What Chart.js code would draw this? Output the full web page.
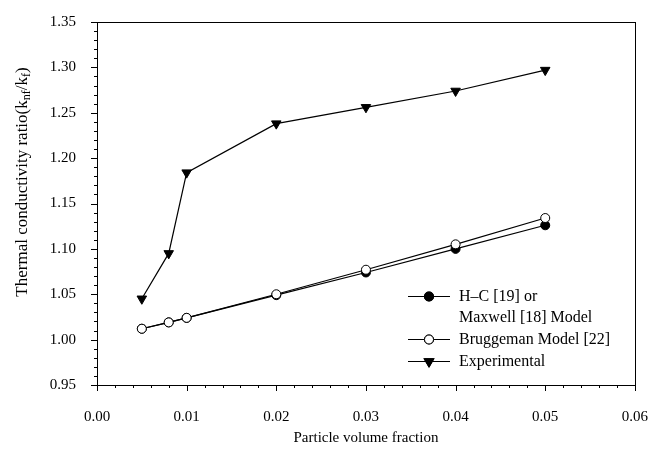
<!DOCTYPE html>
<html>
<head>
<meta charset="utf-8">
<script src="https://cdn.jsdelivr.net/npm/chart.js@4.4.0/dist/chart.umd.min.js"></script>
<style>
  html, body { margin: 0; padding: 0; background: #fff; }
  #wrap { width: 663px; height: 456px; position: relative; }
</style>
</head>
<body>
<div id="wrap"><canvas id="chart"></canvas></div>
<script>
// values
const fractions = [0.005, 0.008, 0.01, 0.02, 0.03, 0.04, 0.05];
const hcMaxwell = [1.012, 1.019, 1.024, 1.049, 1.074, 1.100, 1.126];
const bruggeman = [1.012, 1.019, 1.024, 1.050, 1.077, 1.105, 1.134];
const experimental = [1.045, 1.095, 1.184, 1.238, 1.256, 1.274, 1.297];

const xTicks = [0.00, 0.01, 0.02, 0.03, 0.04, 0.05, 0.06];
const yTicks = [0.95, 1.00, 1.05, 1.10, 1.15, 1.20, 1.25, 1.30, 1.35];
const xMinorPerMajor = 5;
const yMinorPerMajor = 5;

const FONT = '"Liberation Serif", "Times New Roman", serif';

const toPoints = ys => fractions.map((x, i) => ({ x: x, y: ys[i] }));

// ticks, frame, axis titles and legend
const decorations = {
  id: 'decorations',
  afterDraw(chart) {
    const ctx = chart.ctx;
    const { left, right, top, bottom } = chart.chartArea;
    const xs = chart.scales.x, ys = chart.scales.y;
    ctx.save();
    ctx.strokeStyle = '#000';
    ctx.lineWidth = 1;
    ctx.strokeRect(Math.round(left) + 0.5, Math.round(top) + 0.5, Math.round(right - left), Math.round(bottom - top));

    // x ticks, outward
    ctx.beginPath();
    for (let i = 0; i < xTicks.length - 1; i++) {
      const step = (xTicks[i + 1] - xTicks[i]) / xMinorPerMajor;
      for (let j = 0; j < xMinorPerMajor; j++) {
        const px = Math.round(xs.getPixelForValue(xTicks[i] + j * step)) + 0.5;
        const len = j === 0 ? 6 : 3;
        ctx.moveTo(px, bottom);
        ctx.lineTo(px, bottom + len);
      }
    }
    const pxLast = Math.round(xs.getPixelForValue(xTicks[xTicks.length - 1])) + 0.5;
    ctx.moveTo(pxLast, bottom);
    ctx.lineTo(pxLast, bottom + 6);

    // y ticks, outward
    for (let i = 0; i < yTicks.length - 1; i++) {
      const step = (yTicks[i + 1] - yTicks[i]) / yMinorPerMajor;
      for (let j = 0; j < yMinorPerMajor; j++) {
        const py = Math.round(ys.getPixelForValue(yTicks[i] + j * step)) + 0.5;
        const len = j === 0 ? 6 : 3;
        ctx.moveTo(left, py);
        ctx.lineTo(left - len, py);
      }
    }
    const pyLast = Math.round(ys.getPixelForValue(yTicks[yTicks.length - 1])) + 0.5;
    ctx.moveTo(left, pyLast);
    ctx.lineTo(left - 6, pyLast);
    ctx.stroke();

    // x title
    ctx.fillStyle = '#000';
    ctx.font = '15px ' + FONT;
    ctx.textAlign = 'center';
    ctx.textBaseline = 'middle';
    ctx.fillText('Particle volume fraction', (left + right) / 2, 438);

    // y title with subscripts
    const parts = [
      ['Thermal conductivity ratio(k', false],
      ['nf', true],
      ['/k', false],
      ['f', true],
      [')', false]
    ];
    const big = '17px ' + FONT, small = '12px ' + FONT;
    let total = 0;
    parts.forEach(p => { ctx.font = p[1] ? small : big; total += ctx.measureText(p[0]).width; });
    ctx.translate(22, 182);
    ctx.rotate(-Math.PI / 2);
    ctx.textAlign = 'left';
    ctx.textBaseline = 'alphabetic';
    let cx = -total / 2;
    parts.forEach(p => {
      ctx.font = p[1] ? small : big;
      ctx.fillText(p[0], cx, p[1] ? 8 : 5);
      cx += ctx.measureText(p[0]).width;
    });
    ctx.setTransform(1, 0, 0, 1, 0, 0);

    // legend
    const rows = [
      { ds: 0, lines: ['H\u2013C [19] or', 'Maxwell [18] Model'], y: 296 },
      { ds: 1, lines: ['Bruggeman Model [22]'], y: 339 },
      { ds: 2, lines: ['Experimental'], y: 361 }
    ];
    const x0 = 408, x1 = 450, textX = 459;
    rows.forEach(r => {
      const d = chart.data.datasets[r.ds];
      ctx.strokeStyle = '#000';
      ctx.lineWidth = 1.2;
      ctx.beginPath();
      ctx.moveTo(x0, r.y + 0.5);
      ctx.lineTo(x1, r.y + 0.5);
      ctx.stroke();
      Chart.helpers.drawPoint(ctx, {
        pointStyle: d.pointStyle,
        rotation: d.pointRotation || 0,
        radius: d.pointRadius,
        borderWidth: d.pointBorderWidth
      }, (x0 + x1) / 2, r.y + 0.5);
      ctx.fillStyle = d.pointBackgroundColor;
      ctx.strokeStyle = '#000';
      ctx.lineWidth = d.pointBorderWidth;
      ctx.fill();
      ctx.stroke();
      ctx.fillStyle = '#000';
      ctx.font = '16px ' + FONT;
      ctx.textAlign = 'left';
      ctx.textBaseline = 'middle';
      r.lines.forEach((t, k) => ctx.fillText(t, textX, r.y + 1 + k * 21));
    });
    ctx.restore();
  }
};

new Chart(document.getElementById('chart'), {
  type: 'scatter',
  data: {
    datasets: [
      {
        label: 'H-C [19] or Maxwell [18] Model',
        data: toPoints(hcMaxwell),
        showLine: true,
        borderColor: '#000',
        borderWidth: 1.2,
        pointStyle: 'circle',
        pointRadius: 4.5,
        pointBorderWidth: 1,
        pointBorderColor: '#000',
        pointBackgroundColor: '#000',
        order: 2
      },
      {
        label: 'Bruggeman Model [22]',
        data: toPoints(bruggeman),
        showLine: true,
        borderColor: '#000',
        borderWidth: 1.2,
        pointStyle: 'circle',
        pointRadius: 4.5,
        pointBorderWidth: 1,
        pointBorderColor: '#000',
        pointBackgroundColor: '#fff',
        order: 1
      },
      {
        label: 'Experimental',
        data: toPoints(experimental),
        showLine: true,
        borderColor: '#000',
        borderWidth: 1.2,
        pointStyle: 'triangle',
        pointRotation: 180,
        pointRadius: 5.5,
        pointBorderWidth: 1,
        pointBorderColor: '#000',
        pointBackgroundColor: '#000',
        order: 0
      }
    ]
  },
  options: {
    responsive: true,
    maintainAspectRatio: false,
    animation: false,
    layout: { padding: { top: 15, right: 28, left: 0, bottom: 0 } },
    scales: {
      x: {
        type: 'linear',
        min: 0,
        max: 0.06,
        grid: { display: false },
        border: { display: false },
        afterBuildTicks: s => { s.ticks = xTicks.map(v => ({ value: v })); },
        afterFit: s => { s.height = 71; },
        ticks: {
          color: '#000',
          padding: 15,
          maxRotation: 0,
          font: { family: FONT, size: 15 },
          callback: v => Number(v).toFixed(2)
        }
      },
      y: {
        type: 'linear',
        min: 0.95,
        max: 1.35,
        grid: { display: false },
        border: { display: false },
        afterBuildTicks: s => { s.ticks = yTicks.map(v => ({ value: v })); },
        afterFit: s => { s.width = 97; },
        ticks: {
          color: '#000',
          padding: 13,
          font: { family: FONT, size: 15 },
          callback: v => Number(v).toFixed(2)
        }
      }
    },
    plugins: {
      legend: { display: false },
      tooltip: { enabled: false }
    }
  },
  plugins: [decorations]
});
</script>
</body>
</html>
